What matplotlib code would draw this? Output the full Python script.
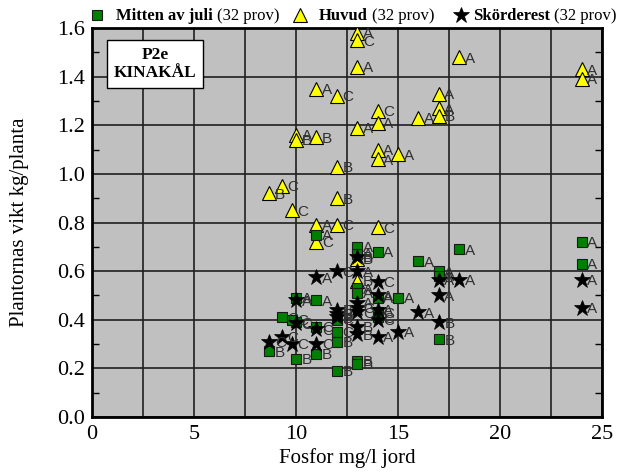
import matplotlib
matplotlib.use("Agg")
import matplotlib.pyplot as plt
from matplotlib.lines import Line2D
from matplotlib.ticker import MultipleLocator

# ---- data ----
huvud_x = [13, 13, 13, 18, 24, 24, 17, 17, 17, 16, 11, 12, 14, 14, 13, 10, 10, 11,
           14, 14, 15, 12, 9.3, 8.7, 12, 9.8, 11, 12, 14, 11, 13, 13]
huvud_y = [1.58, 1.55, 1.44, 1.48, 1.43, 1.39, 1.33, 1.27, 1.24, 1.23, 1.35, 1.32,
           1.26, 1.21, 1.19, 1.16, 1.14, 1.15, 1.10, 1.06, 1.08, 1.03, 0.95, 0.92,
           0.90, 0.85, 0.79, 0.79, 0.78, 0.72, 0.56, 0.65]
huvud_lab = ["A", "C", "A", "A", "A", "A", "A", "A", "B", "A", "A", "C", "C", "A", "A",
             "A", "B", "B", "A", "A", "A", "B", "C", "B", "B", "C", "A", "C", "C", "C",
             "B", "B"]

juli_x = [24, 24, 18, 16, 17, 17, 17, 14, 14, 14, 14, 13, 13, 13, 13, 13, 13, 15,
          12, 12, 12, 12, 11, 11, 11, 11, 10, 10, 10, 9.3, 9.8, 8.7]
juli_y = [0.72, 0.63, 0.69, 0.64, 0.60, 0.58, 0.32, 0.68, 0.49, 0.43, 0.41, 0.70,
          0.67, 0.53, 0.51, 0.23, 0.22, 0.49, 0.40, 0.35, 0.31, 0.19, 0.75, 0.48,
          0.37, 0.26, 0.49, 0.39, 0.24, 0.41, 0.40, 0.27]
juli_lab = ["A", "A", "A", "A", "A", "A", "B", "A", "A", "C", "C", "A", "A", "A", "A",
            "B", "B", "A", "C", "C", "B", "B", "A", "A", "C", "B", "A", "C", "B", "C",
            "C", "B"]

skord_x = [24, 24, 18, 17, 17, 17, 16, 15, 14, 14, 14, 14, 14, 13, 13, 13, 13, 13,
           13, 13, 12, 12, 12, 12, 11, 11, 11, 10, 10, 9.8, 9.3, 8.7]
skord_y = [0.565, 0.45, 0.565, 0.565, 0.50, 0.39, 0.43, 0.35, 0.555, 0.50, 0.44,
           0.40, 0.33, 0.66, 0.60, 0.47, 0.45, 0.43, 0.37, 0.34, 0.60, 0.44, 0.425,
           0.41, 0.575, 0.36, 0.30, 0.48, 0.385, 0.30, 0.33, 0.31]
skord_lab = ["A", "A", "A", "A", "A", "B", "A", "A", "C", "A", "A", "C", "A", "B", "A",
             "A", "C", "C", "B", "B", "C", "B", "B", "B", "A", "C", "C", "A", "C", "C",
             "C", "C"]

series_names = ["Mitten av juli", "Huvud", "Skörderest"]
series_counts = ["(32 prov)", "(32 prov)", "(32 prov)"]

x_ticks = [0, 5, 10, 15, 20, 25]
y_ticks = [0.0, 0.2, 0.4, 0.6, 0.8, 1.0, 1.2, 1.4, 1.6]

serif = "Liberation Serif"
sans = "Liberation Sans"

W, H = 617, 476
fig = plt.figure(figsize=(W / 100, H / 100), dpi=100)
ax = fig.add_axes([92 / W, 1 - 417 / H, 510 / W, 389 / H])
ax.set_facecolor("#c0c0c0")
ax.set_xlim(0, 25)
ax.set_ylim(0, 1.6)

ax.xaxis.set_minor_locator(MultipleLocator(2.5))
ax.yaxis.set_minor_locator(MultipleLocator(0.1))
ax.set_xticks(x_ticks)
ax.set_xticklabels([str(v) for v in x_ticks], fontfamily=serif, fontsize=16)
ax.set_yticks(y_ticks)
ax.set_yticklabels([f"{v:.1f}" for v in y_ticks], fontfamily=serif, fontsize=16)

ax.grid(True, which="major", color="#202020", lw=1.2)
ax.grid(True, which="minor", axis="x", color="#202020", lw=1.2)
ax.tick_params(axis="x", which="major", direction="in", length=0, pad=6)
ax.tick_params(axis="y", which="major", direction="in", length=0, pad=5)
ax.tick_params(axis="y", which="minor", direction="in", length=5, width=1,
               left=True, right=True)
ax.tick_params(axis="x", which="minor", length=0)
ax.set_axisbelow(True)
for s in ax.spines.values():
    s.set_linewidth(2)
    s.set_color("black")

lab_kw = dict(fontfamily=sans, fontsize=11, color="#303030", va="center",
              ha="left", textcoords="offset points", xytext=(4, -1))

tri_style = dict(marker="^", ms=9.5, mfc="#ffff00", mec="black", mew=0.8)
sq_style = dict(marker="s", ms=7, mfc="#008000", mec="#1a1a1a", mew=0.8)
star_style = dict(marker="*", ms=12, mfc="black", mec="black", mew=0.5)

ax.plot(huvud_x, huvud_y, ls="none", zorder=3, **tri_style)
for x, y, t in zip(huvud_x, huvud_y, huvud_lab):
    ax.annotate(t, (x, y), zorder=3, **lab_kw)

ax.plot(juli_x, juli_y, ls="none", zorder=4, **sq_style)
for x, y, t in zip(juli_x, juli_y, juli_lab):
    ax.annotate(t, (x, y), zorder=4, **lab_kw)

ax.plot(skord_x, skord_y, ls="none", zorder=5, **star_style)
for x, y, t in zip(skord_x, skord_y, skord_lab):
    ax.annotate(t, (x, y), zorder=5, **lab_kw)

ax.set_xlabel("Fosfor mg/l jord", fontfamily=serif, fontsize=15, labelpad=3)
ax.set_ylabel("Plantornas vikt kg/planta", fontfamily=serif, fontsize=15,
              labelpad=20)

ax.text(0.1235, 0.907, "P2e\nKINAKÅL", transform=ax.transAxes, ha="center",
        va="center", fontfamily=serif, fontweight="bold", fontsize=12.5,
        linespacing=1.2, zorder=10,
        bbox=dict(boxstyle="square,pad=0.4", fc="white", ec="black", lw=1))

# legend drawn manually across the top
styles = [sq_style, tri_style, star_style]
marker_px = [96.5, 300, 461]
text_px = [116, 319, 473]
y_mark = 1 - 15 / H
y_base = 1 - 20.5 / H
for st, mx, tx, name, cnt in zip(styles, marker_px, text_px, series_names,
                                 series_counts):
    fig.add_artist(Line2D([mx / W], [y_mark], ls="none", transform=fig.transFigure,
                          **st))
    t1 = fig.text(tx / W, y_base, name, fontfamily=serif, fontweight="bold",
                  fontsize=12, va="baseline", ha="left")
    fig.canvas.draw()
    bb = t1.get_window_extent()
    fig.text((bb.x1 + 4) / W, y_base, cnt, fontfamily=serif, fontsize=12,
             va="baseline", ha="left")

fig.savefig("out.png", dpi=100)
